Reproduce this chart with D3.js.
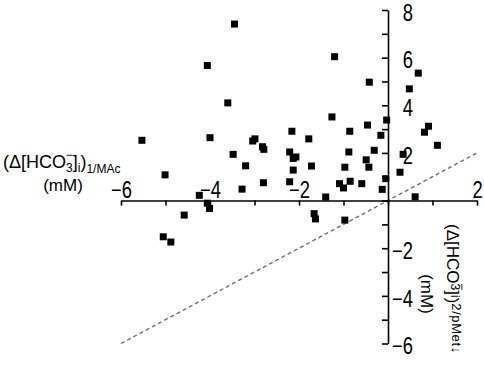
<!DOCTYPE html>
<html>
<head>
<meta charset="utf-8">
<script src="https://cdn.jsdelivr.net/npm/d3@7"></script>
<style>
  body { margin: 0; background: #fff; }
  svg { display: block; font-family: "Liberation Sans", Arial, sans-serif; }
</style>
</head>
<body>
<svg id="chart" width="484" height="366"></svg>
<script>
// Data (mM)
const xValues = [-3.45, -4.06, -3.60, -5.53, -4.00, -3.04, -2.99, -3.48, -3.20, -5.01,
  -3.28, -4.24, -4.06, -4.01, -4.58, -5.05, -4.88, -1.20, -0.42, -1.26,
  -0.03, -0.46, -2.82, -2.79, -2.16, -1.78, -2.21, -2.13, -2.07, -1.72,
  -2.13, -2.80, -2.21, -1.40, -0.86, -0.16, -0.88, -0.31, -0.49, -0.43,
  -0.97, -1.09, -1.00, -0.85, -0.59, -0.05, -0.13, -1.66, -1.63, -0.97,
  0.68, 0.48, 0.91, 0.82, 1.11, 0.34, 0.27, 0.61];
const yValues = [7.41, 5.67, 4.10, 2.53, 2.64, 2.50, 2.59, 1.94, 1.46, 1.08,
  0.48, 0.22, -0.11, -0.33, -0.61, -1.52, -1.74, 6.04, 4.97, 3.51,
  3.38, 3.17, 2.26, 2.15, 2.91, 2.59, 2.04, 1.77, 1.83, 1.45,
  1.28, 0.75, 0.79, 0.15, 2.91, 2.74, 2.04, 2.11, 1.71, 1.40,
  1.40, 0.71, 0.53, 0.81, 0.71, 0.92, 0.47, -0.55, -0.77, -0.82,
  5.35, 4.69, 3.12, 2.87, 2.32, 1.94, 1.19, 0.16];
const xDomain = [-6, 2];
const yDomain = [-6, 8];
const xTicks = [-6, -5, -4, -3, -2, -1, 0, 1, 2];
const yTicks = [-6, -5, -4, -3, -2, -1, 0, 1, 2, 3, 4, 5, 6, 7, 8];
const identityLine = [-6, 2];

const svg = d3.select("#chart");

const x = d3.scaleLinear().domain(xDomain).range([121, 477]);
const y = d3.scaleLinear().domain(yDomain).range([343.5, 10]);

// label only the even values, skip 0
const evenOnly = d => (d % 2 === 0 && d !== 0 ? d3.format("")(d) : "");
const squeeze = 0.8; // tick font looks tall and narrow

// dashed identity line
svg.append("line")
    .attr("x1", x(identityLine[0]))
    .attr("y1", y(identityLine[0]))
    .attr("x2", x(identityLine[1]))
    .attr("y2", y(identityLine[1]))
    .attr("stroke", "#707070")
    .attr("stroke-width", 1.4)
    .attr("stroke-dasharray", "4,3");

// X axis through y = 0
const xAxis = svg.append("g")
    .attr("transform", `translate(0,${y(0)})`)
    .call(d3.axisBottom(x).tickValues(xTicks).tickSizeInner(5).tickSizeOuter(0).tickFormat(evenOnly));

xAxis.selectAll("text")
    .attr("y", -3)
    .attr("dy", null)
    .attr("transform", `scale(${squeeze},1)`)
    .style("font-size", "23px")
    .attr("fill", "#000");

// Y axis through x = 0
const yAxis = svg.append("g")
    .attr("transform", `translate(${x(0)},0)`)
    .call(d3.axisLeft(y).tickValues(yTicks).tickSizeInner(6).tickSizeOuter(0).tickFormat(evenOnly));

yAxis.selectAll("text")
    .attr("x", 25 / squeeze)
    .attr("dy", "0.45em")
    .attr("text-anchor", "end")
    .attr("transform", `scale(${squeeze},1)`)
    .style("font-size", "23px")
    .attr("fill", "#000");

svg.selectAll(".domain, .tick line")
    .attr("stroke", "#000")
    .attr("stroke-width", 1.6);

// Points
const size = 7;
svg.append("g")
    .selectAll("rect")
    .data(xValues.map((v, i) => [v, yValues[i]]))
    .enter()
    .append("rect")
    .attr("x", d => x(d[0]) - size / 2)
    .attr("y", d => y(d[1]) - size / 2)
    .attr("width", size)
    .attr("height", size)
    .attr("fill", "#000");

// Left label
const leftLabel = svg.append("text")
    .attr("x", 3)
    .attr("y", 168)
    .style("font-size", "18px")
    .attr("fill", "#000");
leftLabel.append("tspan").text("(Δ[HCO");
leftLabel.append("tspan").attr("dy", 4).style("font-size", "12px").text("3");
leftLabel.append("tspan").attr("dx", -7).attr("dy", -13).style("font-size", "12px").text("−");
leftLabel.append("tspan").attr("dy", 9).text("]");
leftLabel.append("tspan").attr("dy", 4).style("font-size", "12px").text("i");
leftLabel.append("tspan").attr("dy", -4).text(")");
leftLabel.append("tspan").attr("dy", 5).style("font-size", "12px").text("1/MAc");

svg.append("text")
    .attr("x", 63)
    .attr("y", 191)
    .attr("text-anchor", "middle")
    .style("font-size", "17px")
    .text("(mM)");

// Right rotated label
const rightLabel = svg.append("text")
    .attr("transform", "translate(447,224) rotate(90)")
    .style("font-size", "17px")
    .attr("fill", "#000");
rightLabel.append("tspan").text("(Δ[HCO");
rightLabel.append("tspan").attr("dy", -4).style("font-size", "12px").text("3");
rightLabel.append("tspan").attr("dx", -7).attr("dy", -7).style("font-size", "12px").text("−");
rightLabel.append("tspan").attr("dy", 11).text("]");
rightLabel.append("tspan").attr("dy", -4).style("font-size", "12px").text("i");
rightLabel.append("tspan").attr("dy", 4).text(")");
rightLabel.append("tspan").attr("dy", -5).style("font-size", "13px").style("letter-spacing", "0.6px").text("2/pMet↓");

svg.append("text")
    .attr("transform", "translate(421,294) rotate(90)")
    .attr("text-anchor", "middle")
    .style("font-size", "17px")
    .text("(mM)");
</script>
</body>
</html>
